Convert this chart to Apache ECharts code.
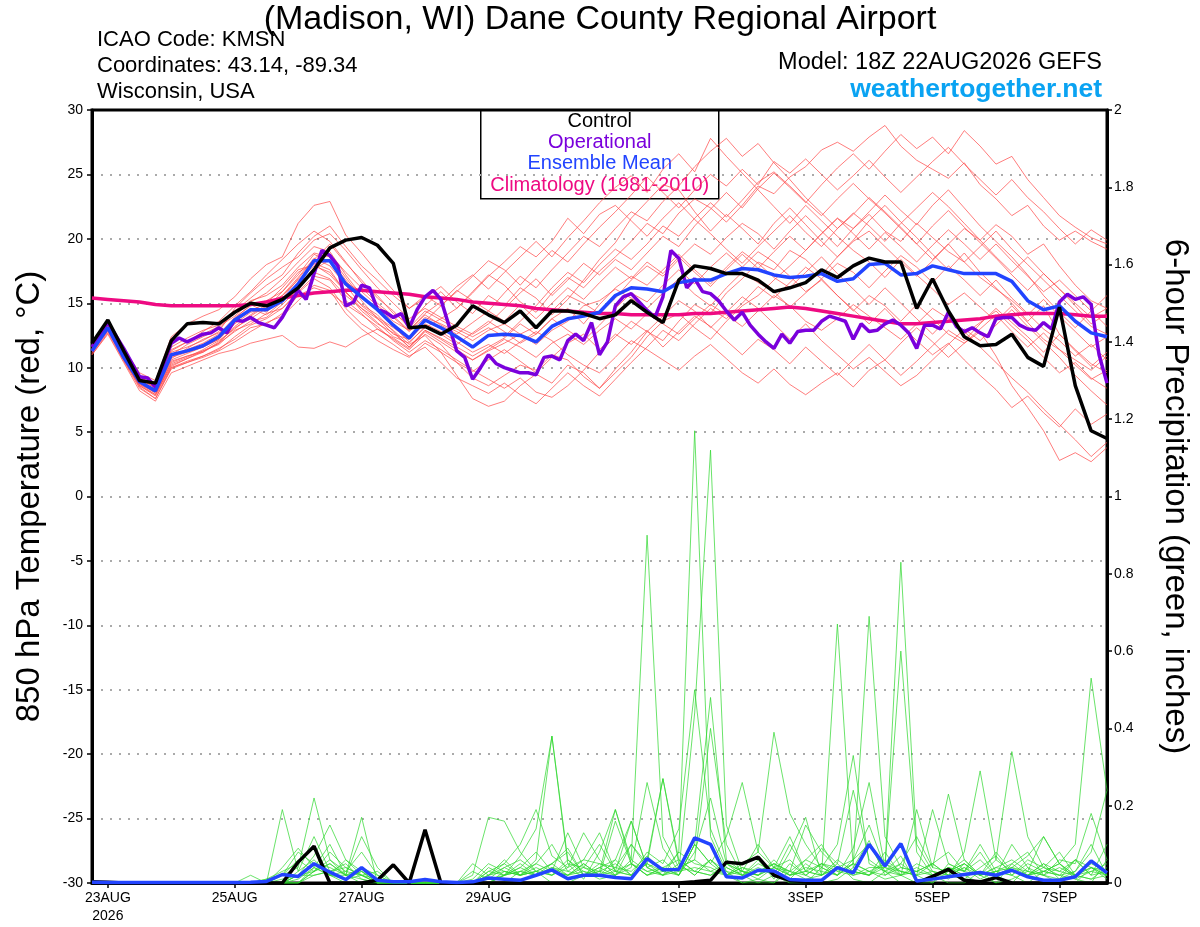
<!DOCTYPE html>
<html><head><meta charset="utf-8">
<script src="https://cdn.jsdelivr.net/npm/echarts@6/dist/echarts.min.js"></script>
<style>html,body{margin:0;padding:0;background:#fff}#c{width:1200px;height:927px}</style>
</head><body><div id="c"></div>
<script>
// x axis: hours after 18Z 22AUG2026
const tickHours = [6, 54, 102, 150, 222, 270, 318, 366];
const tickLabels = ['23AUG\n2026', '25AUG', '27AUG', '29AUG', '1SEP', '3SEP', '5SEP', '7SEP'];
const tempTicks = [-30, -25, -20, -15, -10, -5, 0, 5, 10, 15, 20, 25, 30];
const precipTicks = [0, 0.2, 0.4, 0.6, 0.8, 1, 1.2, 1.4, 1.6, 1.8, 2];

// 6-hourly series (65 values)
const controlTemp = [
  11.9,13.7,11.3,9.0,8.8,12.1,13.4,13.5,13.4,14.3,15.0,14.8,15.3,
  16.2,17.6,19.3,19.9,20.1,19.5,18.1,13.1,13.2,12.6,13.3,14.8,14.1,
  13.5,14.4,13.1,14.4,14.4,14.2,13.8,14.1,15.2,14.3,13.5,16.8,17.9,
  17.7,17.3,17.3,16.8,15.9,16.2,16.6,17.6,17.0,17.9,18.5,18.2,18.2,
  14.6,16.9,14.4,12.4,11.7,11.8,12.6,10.8,10.1,14.7,8.6,5.1,4.5];
const meanTemp = [
  11.3,13.1,10.8,8.9,8.2,11.0,11.3,11.7,12.4,13.7,14.5,14.5,15.2,
  16.5,18.3,18.3,16.5,15.5,14.5,13.3,12.3,13.7,13.1,12.4,11.6,12.5,
  12.6,12.5,12.0,13.2,13.8,14.0,14.3,15.6,16.2,16.1,15.9,16.6,16.8,
  16.8,17.3,17.7,17.6,17.2,17.0,17.1,17.3,16.7,16.9,18.0,18.1,17.2,
  17.3,17.9,17.6,17.3,17.3,17.3,16.7,15.2,14.5,14.8,13.6,12.7,12.4];
const climTemp = [
  15.4,15.3,15.2,15.1,14.9,14.8,14.8,14.8,14.8,14.8,14.9,15.1,15.4,
  15.6,15.8,15.9,16.0,16.0,15.9,15.8,15.7,15.5,15.4,15.3,15.1,15.0,
  14.9,14.8,14.6,14.5,14.4,14.3,14.2,14.2,14.1,14.1,14.1,14.1,14.2,
  14.2,14.3,14.4,14.5,14.6,14.7,14.6,14.4,14.2,14.0,13.8,13.6,13.4,
  13.4,13.5,13.6,13.7,13.8,14.0,14.1,14.2,14.2,14.2,14.1,14.0,14.0];
// 3-hourly operational run (129 values)
const operationalTemp = [
  11.6,12.5,13.5,12.5,11.5,10.4,9.3,9.2,
  8.5,10.2,11.9,12.3,12.0,12.3,12.6,12.7,
  13.1,12.7,13.7,13.6,13.9,13.5,13.3,13.1,
  13.9,15.0,16.0,15.3,17.3,19.1,18.7,17.9,
  14.8,15.1,16.4,16.2,14.5,14.3,13.9,14.2,
  13.1,14.5,15.5,16.0,15.3,13.3,11.3,10.8,
  9.1,10.0,11.0,10.3,10.0,9.8,9.6,9.6,
  9.45,10.8,10.9,10.6,12.1,12.6,12.1,13.5,
  11.0,12.0,14.8,15.5,15.75,15.1,14.45,13.9,
  15.5,19.1,18.5,16.2,16.9,15.9,15.75,15.2,
  14.4,13.7,14.3,13.3,12.6,12.0,11.5,12.6,
  11.9,12.8,12.9,12.9,13.6,14.0,13.8,13.6,
  12.2,13.4,12.8,12.9,13.4,13.7,13.3,12.7,
  11.5,13.3,13.3,13.0,14.3,13.2,12.8,13.1,
  12.7,12.4,13.8,13.9,13.9,13.3,13.0,12.9,
  13.5,13.0,15.1,15.7,15.3,15.5,14.9,11.0,
  8.8];
const controlPrecip = [
  0.003,0.002,0,0,0,0,0,0,0,0,0,0,0,
  0.054,0.095,0,0,0,0.007,0.047,0,0.138,0,0,0,0,
  0,0,0,0,0,0,0,0,0,0,0,0,0.003,
  0.007,0.054,0.05,0.067,0.02,0.007,0.003,0,0,0,0,0,0,
  0,0.017,0.035,0.007,0.003,0.014,0,0,0,0,0,0,0];
const meanPrecip = [
  0.002,0.001,0.001,0.001,0.001,0.001,0.001,0.001,0.001,0.001,0.002,0.004,0.022,
  0.017,0.05,0.028,0.009,0.04,0.007,0.003,0.003,0.009,0.003,0.001,0.003,0.013,
  0.01,0.007,0.02,0.034,0.011,0.02,0.02,0.014,0.011,0.063,0.034,0.035,0.117,
  0.1,0.016,0.013,0.033,0.031,0.009,0.007,0.007,0.04,0.026,0.1,0.044,0.102,
  0.005,0.01,0.016,0.022,0.027,0.02,0.033,0.016,0.007,0.007,0.016,0.057,0.026];

// ensemble members, 850 hPa temperature (6-hourly)
const memberT01 = [11.6,13.4,11.2,9.1,8.5,11.4,12.0,12.6,13.2, 14.0,15.1,15.8,16.9,18.2,19.4,19.0,17.2, 15.6,14.4,13.2,12.0,13.1,13.8,14.6,15.9, 17.2,16.4,15.1,14.3,15.8,17.0,16.2,17.5, 18.6,19.8,21.2,20.4,22.0,23.1,22.4,21.3, 22.6,24.1,23.5,24.8,25.6,26.9,27.5,26.8, 27.9,28.8,27.2,26.1,25.4,24.7,25.9,24.2, 23.1,21.8,22.6,21.0,19.9,20.6,19.8,19.2];
const memberT02 = [11.2,12.9,10.6,8.6,7.9,10.4,10.9,11.2,12.0, 13.1,13.8,14.6,15.9,17.4,18.1,17.6,15.8, 14.9,14.1,12.8,11.6,12.9,12.2,11.4,10.6, 11.3,11.9,12.6,11.8,12.9,13.6,14.8,15.2, 16.1,15.4,14.6,15.8,16.9,15.7,14.8,16.2, 17.4,16.6,15.9,14.7,15.8,16.9,15.6,14.4, 15.6,14.8,13.6,14.9,13.8,12.6,11.9,12.8, 10.9,8.6,6.9,5.1,2.8,3.4,2.7,3.8];
const memberT03 = [11.8,13.6,11.5,9.6,9.0,12.4,13.4,14.0,14.5, 15.5,16.9,18.0,18.6,21.2,22.6,22.9,20.3, 18.9,17.4,16.0,14.6,15.4,16.3,15.1,14.2, 15.6,14.8,16.2,15.4,14.1,15.3,16.8,18.4, 19.7,21.6,22.9,24.2,23.8,22.1,20.6,21.9, 20.8,19.6,21.2,22.4,21.1,19.8,18.6,19.9, 21.4,22.6,21.3,20.1,18.8,17.6,18.9,17.4, 16.2,15.0,13.6,14.8,12.6,11.4,10.3,9.6];
const memberT04 = [11.0,12.6,10.4,8.2,7.4,9.6,10.1,10.6,11.1, 11.4,11.9,12.2,12.5,11.6,11.5,12.0,11.6, 12.4,13.0,12.2,11.4,12.6,11.8,10.4,9.2, 8.6,9.4,10.2,9.8,11.0,10.6,9.3,8.4, 9.6,10.8,12.4,13.6,14.2,13.1,12.2,13.6, 14.8,15.6,16.8,17.9,19.1,20.4,21.6,20.8, 22.1,23.4,22.2,21.1,22.6,23.8,22.4,21.0, 19.8,18.6,17.2,15.6,14.3,13.1,14.4,15.6];
const memberT05 = [11.4,13.1,10.9,8.8,8.0,10.1,10.7,11.3,11.9, 12.8,13.6,13.9,14.9,16.1,17.6,18.4,16.8, 15.2,13.8,12.9,11.8,12.5,11.2,9.4,7.6, 7.0,7.4,8.6,9.5,8.8,10.2,9.6,8.4, 9.9,11.2,12.8,12.1,13.6,14.9,14.2,15.8, 16.9,18.2,17.6,19.1,18.4,17.2,18.6,19.8, 20.6,19.4,18.2,17.1,18.3,19.6,20.8,19.9, 21.1,20.2,18.8,19.6,17.9,16.4,15.2,14.6];
const memberT06 = [11.7,13.5,11.3,9.3,8.6,11.0,11.8,12.4,13.0, 14.3,15.2,15.6,16.4,17.8,18.9,18.6,17.0, 15.4,14.6,13.6,12.9,14.2,15.1,16.3,17.2, 16.1,17.4,18.6,19.8,18.6,20.1,21.4,22.8, 24.0,24.9,23.6,25.4,26.6,25.2,27.8,26.4, 25.1,23.8,22.5,21.2,22.6,21.4,20.2,19.1, 18.2,17.0,18.4,17.2,16.1,14.9,15.8,14.7, 13.6,14.8,13.5,12.2,11.4,10.6,9.8,10.9];
const memberT07 = [11.3,12.9,10.8,8.9,8.3,10.6,11.1,11.6,12.2, 13.4,14.3,14.6,15.6,17.0,18.5,17.9,16.4, 14.8,13.9,13.1,12.2,13.4,12.8,12.0,11.2, 11.8,11.1,12.0,12.8,12.1,11.0,10.2,9.6, 10.8,12.1,11.4,10.6,9.8,10.9,11.8,10.7, 9.6,8.8,9.9,8.7,7.9,8.8,9.6,8.5, 9.8,10.6,9.4,10.5,11.7,12.9,12.1,13.4, 14.6,13.5,12.4,11.2,12.6,11.3,10.1,11.2];
const memberT08 = [11.5,13.3,11.1,9.0,8.2,11.2,11.6,12.1,12.8, 14.6,15.8,16.9,17.8,18.6,19.9,20.4,19.1, 17.6,16.2,15.0,13.8,14.6,13.9,13.2,12.6, 13.4,14.6,15.8,16.9,15.6,16.8,18.1,17.2, 18.4,17.6,18.9,20.2,19.4,21.0,22.3,23.6, 22.4,23.9,25.1,24.0,22.8,24.2,25.5,26.6, 25.4,26.8,28.1,27.0,27.9,26.6,28.4,27.2, 25.8,26.4,24.6,23.2,21.8,20.9,20.1,19.6];
const memberT09 = [11.1,12.8,10.7,8.7,8.1,10.3,10.8,11.4,12.1, 13.0,14.0,14.8,15.3,16.6,17.4,16.9,15.6, 14.6,13.5,12.4,11.9,13.2,12.6,11.8,12.7, 13.6,12.8,11.9,12.6,13.8,14.6,13.4,14.9, 16.2,17.1,16.4,17.6,18.8,17.6,16.5,17.8, 19.0,18.1,17.0,16.2,17.4,18.6,17.3,16.1, 14.9,16.2,15.0,13.8,12.6,13.9,12.8,11.6, 10.4,9.2,8.1,6.8,5.6,4.4,3.1,4.2];
const memberT10 = [11.6,13.2,11.0,9.2,8.4,11.0,11.4,11.9,12.6, 13.9,14.8,15.2,15.9,17.2,18.8,18.2,16.6, 15.9,14.8,13.9,12.8,13.9,13.4,12.8,12.1, 12.9,13.4,12.6,13.2,14.4,15.6,15.0,14.2, 15.4,16.8,17.9,17.1,18.4,19.6,18.8,20.1, 21.2,20.4,19.2,20.6,21.8,20.6,19.4,20.8, 21.9,20.6,19.8,21.2,20.1,19.0,18.2,19.4, 20.6,19.2,18.0,16.8,15.6,14.4,13.2,12.6];
const memberT11 = [11.2,13.0,10.6,8.5,7.6,9.9,10.4,10.9,11.5, 12.2,13.1,13.4,14.2,15.6,16.2,15.8,14.9, 14.1,13.2,12.1,11.2,12.1,11.4,10.6,9.8, 9.1,8.4,9.2,8.1,7.7,8.6,9.8,11.2, 12.4,13.6,12.8,14.0,15.2,14.4,13.1,14.3, 15.5,14.6,13.4,12.2,13.4,12.1,11.0,9.9, 10.8,9.7,8.6,9.4,10.6,11.8,13.0,12.1, 13.3,14.5,13.2,12.0,10.8,9.4,8.2,7.1];
const memberT12 = [11.4,13.2,10.9,9.0,8.3,10.7,11.5,12.2,12.7, 13.6,14.4,15.0,16.2,17.6,18.0,17.2,15.9, 14.6,13.8,12.6,12.2,13.6,14.8,16.0,15.2, 14.4,15.8,17.1,16.2,17.6,18.9,20.2,19.4, 20.8,22.1,21.4,22.9,24.1,25.6,26.8,27.8, 26.4,27.4,25.9,24.6,23.2,22.0,20.8,21.9, 23.2,22.1,20.9,19.6,18.4,19.6,18.2,17.0, 16.1,15.2,14.1,15.3,14.0,12.8,11.6,12.4];
const memberT13 = [11.3,13.0,10.8,8.8,8.1,10.5,10.9,11.3,11.8, 12.9,13.4,14.2,14.6,15.9,17.1,16.8,15.2, 14.2,13.0,12.3,11.5,12.8,12.0,11.2,10.6, 11.4,12.2,11.6,10.8,11.9,12.6,11.8,12.9, 13.8,13.0,14.2,13.4,12.6,13.8,14.9,14.1, 13.2,14.4,15.6,14.8,13.6,12.9,13.8,14.9, 14.0,13.1,12.2,13.4,14.6,13.8,12.6,13.5, 14.4,13.2,12.1,10.8,9.6,10.4,9.2,8.4];
const memberT14 = [11.5,13.3,11.1,9.1,8.4,10.9,11.3,11.8,12.4, 13.8,14.9,14.3,15.4,16.9,18.4,19.6,18.1, 16.8,15.4,14.4,13.1,14.4,13.7,13.0,12.4, 13.1,12.4,13.6,14.8,16.2,17.4,16.6,18.0, 19.2,18.4,19.6,21.0,20.2,21.6,22.8,21.7, 23.0,24.4,25.2,24.1,22.9,21.8,23.1,24.3, 23.1,22.0,20.8,19.6,21.0,22.2,20.9,19.7, 18.5,17.2,16.0,17.3,16.1,14.8,13.4,14.2];
const memberT15 = [11.4,13.0,10.7,8.7,7.9,10.2,10.7,11.2,11.9, 13.2,14.1,14.9,15.6,16.8,17.9,17.4,15.9, 14.4,13.4,12.7,11.6,12.9,12.3,11.6,10.9, 11.6,12.3,13.4,12.6,13.8,12.9,12.1,13.3, 14.6,15.8,15.1,16.4,17.6,16.5,17.8,18.9, 17.8,19.0,18.2,17.1,15.9,16.8,15.6,14.5, 13.4,14.6,13.3,12.1,11.0,11.9,10.6,9.4, 8.3,6.9,7.8,6.5,5.4,6.8,5.6,6.4];
const memberT16 = [11.6,13.4,11.2,9.2,8.6,11.3,12.0,12.8,13.6, 14.8,15.9,17.2,18.4,19.6,20.6,19.8,18.2, 16.6,15.6,14.2,13.4,14.8,15.9,14.6,15.8, 17.1,18.2,19.4,18.6,19.8,21.6,20.4,21.9, 22.6,21.4,20.2,21.6,22.8,21.5,20.4,19.2, 18.1,19.4,20.6,21.8,20.5,19.4,20.8,22.0, 21.0,19.8,21.2,22.4,23.6,22.5,21.2,19.9, 18.6,17.4,18.6,17.3,16.1,15.0,13.9,14.6];
const memberT17 = [11.0,12.7,10.5,8.4,7.6,10.0,10.5,10.9,11.4, 12.4,13.3,13.8,14.6,15.8,16.9,16.2,14.6, 13.4,12.6,11.8,10.9,11.6,10.4,9.2,8.6, 8.0,8.8,7.9,7.2,8.4,9.6,8.6,7.8, 9.1,10.4,11.6,12.9,12.1,13.4,14.6,13.8, 15.0,16.3,15.4,16.6,17.8,16.9,18.1,17.4, 16.2,17.5,18.7,17.8,16.6,17.9,16.8,15.6, 16.8,15.4,14.2,13.0,12.1,10.9,11.8,10.6];
const memberT18 = [11.7,13.5,11.4,9.4,8.8,11.6,12.3,12.9,13.3, 14.4,15.4,16.4,17.2,18.9,20.2,21.0,19.4, 17.9,16.8,15.6,14.6,15.6,14.8,15.9,17.1, 18.3,17.6,16.4,17.8,19.1,18.2,19.6,20.9, 22.1,23.4,24.8,23.6,22.4,23.8,25.0,24.1, 25.4,24.2,26.0,25.1,26.2,25.0,23.8,24.9, 26.1,24.8,23.6,24.8,26.0,27.1,25.8,24.6, 23.4,24.6,23.2,22.1,20.8,19.6,20.7,19.9];
const memberT19 = [11.3,12.9,10.7,8.6,7.8,10.0,10.4,10.8,11.3, 12.0,12.8,13.5,14.0,15.2,16.4,16.0,14.2, 13.0,12.1,11.4,10.8,11.9,11.2,10.4,9.7, 10.6,11.4,10.5,9.6,10.8,11.9,12.6,11.4, 12.6,11.8,12.9,11.6,12.8,14.0,13.2,12.1, 11.0,12.2,11.4,10.3,11.6,10.5,9.4,10.6, 11.8,10.6,11.9,13.1,12.0,10.8,11.9,13.0, 14.1,12.8,11.6,12.7,11.4,10.2,9.1,9.8];
const memberT20 = [11.5,13.1,11.0,9.0,8.2,10.8,11.2,11.6,12.2, 13.5,14.6,14.1,15.1,16.4,18.2,18.8,17.4, 16.2,15.0,14.0,12.9,14.1,13.3,12.6,13.5, 14.4,13.6,14.9,13.8,15.0,16.2,15.3,16.6, 17.8,16.9,18.2,17.3,18.6,17.4,16.3,17.6, 18.8,17.7,19.0,20.2,19.1,20.4,21.6,20.4, 19.2,20.5,19.4,18.2,19.5,20.7,19.6,18.4, 19.6,18.3,17.1,15.9,16.8,15.6,14.4,13.2];

// ensemble members, 6-hour precipitation (inches)
const memberP01 = [0,0,0,0,0,0,0,0,0,0,0,0.01,0.03, 0.05,0.09,0.02,0,0,0,0,0,0,0,0,0.02,0.17, 0.16,0.08,0.03,0,0,0.02,0.05,0.04,0.1,0.05,0.02,0.08,1.17, 0.12,0.03,0,0,0.02,0,0,0.04,0.02,0.06,0.1,0.03,0, 0,0.02,0,0,0.03,0,0.05,0.08,0.02,0,0,0.04,0.01];
const memberP02 = [0,0,0,0,0,0,0,0,0,0,0,0,0.02, 0.04,0.22,0.06,0.03,0.02,0.01,0,0,0,0,0,0,0.03, 0.05,0.1,0.19,0.07,0.04,0.13,0.06,0.02,0.04,0.26,0.09,0.03,0.44, 1.12,0.15,0.03,0.01,0,0.05,0.02,0,0.01,0.04,0.02,0.08,0.02, 0,0,0.03,0.06,0.02,0,0.01,0.03,0.12,0.05,0.01,0,0.06];
const memberP03 = [0,0,0,0,0,0,0,0,0,0,0.02,0,0.04, 0.09,0.04,0.1,0.02,0.17,0,0,0,0,0,0,0.01,0.05, 0.03,0.02,0.06,0.38,0.05,0.01,0.08,0.19,0.06,0.9,0.12,0.04,0.06, 0.4,0.1,0.02,0,0,0.03,0.01,0.02,0.05,0.01,0,0.03,0.07, 0,0.01,0.04,0.02,0,0.02,0.1,0.04,0,0.01,0.03,0.1,0.02];
const memberP04 = [0,0,0,0,0,0,0,0,0,0,0,0,0.19, 0.03,0.12,0.03,0.05,0.01,0,0,0,0,0,0,0,0.03, 0.02,0.04,0.08,0.03,0.02,0.05,0.02,0.06,0.16,0.04,0.06,0.02,0.08, 0.22,0.05,0.02,0.06,0.01,0.08,0.17,0.02,0.67,0.04,0.11,0.02,0.05, 0.02,0,0.05,0.03,0.08,0.02,0,0.04,0.02,0.01,0.06,0.02,0.1];
const memberP05 = [0,0,0,0,0,0,0,0,0,0,0,0,0, 0.02,0.07,0.15,0.06,0.02,0.03,0,0,0,0,0,0,0, 0.02,0.03,0.05,0.1,0.03,0.06,0.13,0.03,0.02,0.05,0.03,0.02,0.1, 0.05,0.02,0,0.01,0.04,0.02,0.06,0.1,0.03,0.05,0.69,0.12,0.04, 0.03,0.05,0.02,0.01,0.04,0.07,0.02,0,0.03,0.05,0.02,0.01,0.04];
const memberP06 = [0,0,0,0,0,0,0,0,0,0,0,0.01,0.02, 0.06,0.03,0.06,0.02,0.12,0.04,0,0,0,0,0,0,0.01, 0.04,0.02,0.03,0.05,0.08,0.02,0.03,0.05,0.02,0.06,0.27,0.05,0.02, 0.06,0.02,0.05,0.08,0.04,0.12,0.03,0.05,0.02,0.09,0.26,0.04,0.83, 0.1,0.03,0.01,0.05,0.02,0.06,0.03,0.02,0.05,0.01,0.02,0.05,0.03];
const memberP07 = [0,0,0,0,0,0,0,0,0,0,0,0,0.01, 0.02,0.05,0.02,0.01,0.03,0.01,0,0,0,0,0,0.05,0.02, 0.04,0.06,0.03,0.02,0.05,0.04,0.1,0.03,0.05,0.02,0.04,0.06,0.03, 0.02,0.04,0.02,0.05,0.03,0.01,0.05,0.02,0.04,0.03,0.02,0.06,0.03, 0.02,0.05,0.08,0.03,0.06,0.02,0.04,0.07,0.12,0.05,0.1,0.53,0.24];
const memberP08 = [0,0,0,0,0,0,0,0,0,0,0,0,0.02, 0.08,0.05,0.04,0.02,0.01,0,0,0,0,0,0,0.03,0.01, 0.02,0.07,0.14,0.38,0.06,0.02,0.03,0.02,0.05,0.02,0.04,0.02,0.1, 0.05,0.12,0.26,0.08,0.39,0.18,0.1,0.04,0.02,0.05,0.03,0.01,0.02, 0.05,0.03,0.02,0.04,0.01,0.03,0.02,0.05,0.03,0.02,0.01,0.03,0.05];
const memberP09 = [0,0,0,0,0,0,0,0,0,0,0,0,0, 0,0.04,0.02,0.06,0.03,0,0,0,0,0,0,0,0.02, 0.06,0.02,0.03,0.05,0.02,0.03,0.01,0.02,0.1,0.04,0.02,0.05,0.02, 0.06,0.03,0.02,0.04,0.02,0.1,0.03,0.09,0.05,0.24,0.06,0.03,0.05, 0.12,0.04,0.23,0.06,0.02,0.04,0.06,0.03,0.02,0.04,0.02,0.01,0.02];
const memberP10 = [0,0,0,0,0,0,0,0,0,0,0,0,0, 0.03,0.06,0.02,0.03,0.08,0.02,0,0,0,0,0,0,0.04, 0.02,0.05,0.02,0.03,0.13,0.04,0.02,0.04,0.03,0.07,0.03,0.08,0.05, 0.04,0.02,0.03,0.1,0.04,0.06,0.02,0.05,0.03,0.02,0.04,0.04,0.03, 0.02,0.19,0.05,0.03,0.1,0.03,0.02,0.06,0.04,0.08,0.02,0.04,0.02];
const memberP11 = [0,0,0,0,0,0,0,0,0,0,0,0,0, 0,0.03,0.05,0.02,0,0.01,0,0,0,0,0,0,0, 0.03,0.02,0.04,0.02,0.06,0.03,0.02,0.16,0.05,0.03,0.02,0.04,0.03, 0.02,0.05,0.03,0.02,0.06,0.02,0.04,0.03,0.02,0.05,0.03,0.02,0.04, 0.03,0.05,0.02,0.08,0.29,0.06,0.34,0.12,0.04,0.02,0.06,0.04,0.02];
const memberP12 = [0,0,0,0,0,0,0,0,0,0,0,0,0, 0.02,0.03,0.08,0.04,0.02,0,0,0,0,0,0,0,0, 0,0.03,0.02,0.05,0.09,0.02,0.04,0.06,0.02,0.05,0.27,0.06,0.03, 0.06,0.02,0.04,0.02,0.05,0.03,0.06,0.04,0.1,0.33,0.05,0.03,0.02, 0.04,0.02,0.03,0.05,0.02,0.08,0.03,0.02,0.04,0.03,0.06,0.02,0.03];
const memberP13 = [0,0,0,0,0,0,0,0,0,0,0,0,0, 0.01,0.04,0.02,0.02,0.04,0.02,0,0,0,0,0,0,0.02, 0.05,0.02,0.03,0.02,0.04,0.06,0.05,0.03,0.02,0.08,0.05,0.14,0.5, 0.14,0.04,0.02,0.03,0.05,0.02,0.03,0.02,0.04,0.03,0.02,0.05,0.03, 0.02,0.03,0.02,0.04,0.02,0.03,0.05,0.02,0.03,0.02,0.03,0.08,0.24];
const memberP14 = [0,0,0,0,0,0,0,0,0,0,0,0,0, 0,0.02,0.03,0.01,0.02,0,0,0,0,0,0,0,0, 0.02,0.04,0.02,0.04,0.03,0.02,0.04,0.02,0.06,0.03,0.04,0.02,0.1, 0.48,0.06,0.03,0.02,0.04,0.03,0.15,0.08,0.04,0.02,0.03,0.05,0.02, 0.03,0.02,0.04,0.02,0.03,0.02,0.04,0.03,0.02,0.06,0.05,0.18,0.06];
const memberP15 = [0,0,0,0,0,0,0,0,0,0,0,0,0, 0.02,0.02,0.03,0.04,0.02,0,0,0,0,0,0,0,0.02, 0.03,0.02,0.05,0.03,0.02,0.04,0.03,0.19,0.05,0.02,0.03,0.04,0.06, 0.03,0.02,0.04,0.03,0.05,0.03,0.02,0.05,0.04,0.06,0.15,0.04,0.6, 0.08,0.02,0.04,0.03,0.02,0.04,0.03,0.02,0.05,0.03,0.02,0.04,0.03];
const memberP16 = [0,0,0,0,0,0,0,0,0,0,0,0,0, 0,0.03,0.05,0.02,0.03,0,0,0,0,0,0,0,0, 0.02,0.03,0.02,0.04,0.02,0.05,0.02,0.03,0.16,0.04,0.02,0.03,0.04, 0.03,0.05,0.03,0.02,0.04,0.02,0.03,0.02,0.06,0.03,0.02,0.04,0.02, 0.19,0.04,0.03,0.05,0.02,0.03,0.04,0.02,0.03,0.05,0.02,0.03,0.02];

const memberTemps = [memberT01,memberT02,memberT03,memberT04,memberT05,memberT06,memberT07,memberT08,memberT09,memberT10,
  memberT11,memberT12,memberT13,memberT14,memberT15,memberT16,memberT17,memberT18,memberT19,memberT20];
const memberPrecips = [memberP01,memberP02,memberP03,memberP04,memberP05,memberP06,memberP07,memberP08,
  memberP09,memberP10,memberP11,memberP12,memberP13,memberP14,memberP15,memberP16];

const FONT = '"Liberation Sans", Arial, sans-serif';
const pairs = (arr, step) => arr.map((v, i) => [i * step, v]);

const series = [];
memberTemps.forEach((m, k) => series.push({
  type: 'line', name: 'memberT' + k, data: pairs(m, 6), yAxisIndex: 0,
  showSymbol: false, silent: true, z: 1,
  lineStyle: { color: '#ff4a4a', width: 0.8, opacity: 0.9 }
}));
memberPrecips.forEach((m, k) => series.push({
  type: 'line', name: 'memberP' + k, data: pairs(m, 6), yAxisIndex: 1,
  showSymbol: false, silent: true, z: 2,
  lineStyle: { color: '#2fd82f', width: 0.8, opacity: 0.9 }
}));
series.push({ type: 'line', name: 'Climatology (1981-2010)', data: pairs(climTemp, 6), yAxisIndex: 0, showSymbol: false, z: 3,
  lineStyle: { color: '#ee0a82', width: 3.5 } });
series.push({ type: 'line', name: 'Operational', data: pairs(operationalTemp, 3), yAxisIndex: 0, showSymbol: false, z: 4,
  lineStyle: { color: '#7a00dc', width: 3.5 } });
series.push({ type: 'line', name: 'Ensemble Mean', data: pairs(meanTemp, 6), yAxisIndex: 0, showSymbol: false, z: 5,
  lineStyle: { color: '#2244ff', width: 3.5 } });
series.push({ type: 'line', name: 'Control', data: pairs(controlTemp, 6), yAxisIndex: 0, showSymbol: false, z: 6,
  lineStyle: { color: '#000000', width: 3.5 } });
series.push({ type: 'line', name: 'Control precip', data: pairs(controlPrecip, 6), yAxisIndex: 1, showSymbol: false, z: 6,
  lineStyle: { color: '#000000', width: 3.5 } });
series.push({ type: 'line', name: 'Mean precip', data: pairs(meanPrecip, 6), yAxisIndex: 1, showSymbol: false, z: 7,
  lineStyle: { color: '#2244ff', width: 3.5 } });

const plainText = (size) => ({ fontSize: size, fontWeight: 'normal', color: '#000', fontFamily: FONT });

const chart = echarts.init(document.getElementById('c'), null, { renderer: 'canvas' });
chart.setOption({
  animation: false,
  backgroundColor: '#ffffff',
  textStyle: { fontFamily: FONT },
  title: [
    { text: '(Madison, WI) Dane County Regional Airport', left: 'center', top: -2, textStyle: plainText(34) },
    { text: 'ICAO Code: KMSN', left: 92, top: 24, textStyle: plainText(22) },
    { text: 'Coordinates: 43.14, -89.34', left: 92, top: 50, textStyle: plainText(22) },
    { text: 'Wisconsin, USA', left: 92, top: 76, textStyle: plainText(22) },
    { text: 'Model: 18Z 22AUG2026 GEFS', right: 93, top: 46, textStyle: plainText(23.5) },
    { text: 'weathertogether.net', right: 93, top: 71, textStyle: { fontSize: 26.5, fontWeight: 'bold', color: '#0aa3f2', fontFamily: FONT } }
  ],
  grid: { left: 92, right: 93, top: 110, bottom: 44, show: true, borderColor: '#000', borderWidth: 3, containLabel: false },
  xAxis: {
    type: 'value', min: 0, max: 384,
    axisLine: { show: true, onZero: false, lineStyle: { color: '#000', width: 3 } },
    axisTick: { show: true, customValues: tickHours, length: 5, lineStyle: { color: '#000', width: 1.5 } },
    axisLabel: { customValues: tickHours, color: '#000', fontSize: 14, lineHeight: 18, margin: 6, fontFamily: FONT,
      formatter: v => tickLabels[tickHours.indexOf(v)] },
    splitLine: { show: false }
  },
  yAxis: [
    { type: 'value', min: tempTicks[0], max: tempTicks[tempTicks.length - 1], interval: 5, position: 'left',
      name: '850 hPa Temperature (red, °C)', nameLocation: 'middle', nameGap: 46, nameRotate: 90,
      nameTextStyle: { fontSize: 33, color: '#000', fontFamily: FONT },
      axisLine: { show: true, lineStyle: { color: '#000', width: 3 } },
      axisTick: { show: true, length: 5, lineStyle: { color: '#000', width: 1.5 } },
      axisLabel: { color: '#000', fontSize: 14, margin: 9, fontFamily: FONT },
      splitLine: { show: true, showMinLine: false, showMaxLine: false, lineStyle: { color: '#aaaaaa', width: 2, type: [2, 7] } } },
    { type: 'value', min: precipTicks[0], max: precipTicks[precipTicks.length - 1], interval: 0.2, position: 'right',
      name: '6-hour Precipitation (green, inches)', nameLocation: 'middle', nameGap: 52, nameRotate: -90,
      nameTextStyle: { fontSize: 33, color: '#000', fontFamily: FONT },
      axisLine: { show: true, lineStyle: { color: '#000', width: 3 } },
      axisTick: { show: true, length: 5, lineStyle: { color: '#000', width: 1.5 } },
      axisLabel: { color: '#000', fontSize: 14, margin: 7, fontFamily: FONT, formatter: v => String(+v.toFixed(1)) },
      splitLine: { show: false } }
  ],
  graphic: [{
    type: 'group', left: 480, top: 110, z: 100,
    children: [
      { type: 'rect', shape: { x: 0, y: 0, width: 238, height: 88 }, style: { fill: '#fff', stroke: '#000', lineWidth: 1.5 } },
      { type: 'text', style: { text: 'Control', x: 119, y: 11, align: 'center', verticalAlign: 'middle', font: '20px ' + FONT, fill: '#000' } },
      { type: 'text', style: { text: 'Operational', x: 119, y: 32, align: 'center', verticalAlign: 'middle', font: '20px ' + FONT, fill: '#7a00dc' } },
      { type: 'text', style: { text: 'Ensemble Mean', x: 119, y: 53, align: 'center', verticalAlign: 'middle', font: '20px ' + FONT, fill: '#2244ff' } },
      { type: 'text', style: { text: 'Climatology (1981-2010)', x: 119, y: 75, align: 'center', verticalAlign: 'middle', font: '20px ' + FONT, fill: '#ee0a82' } }
    ]
  }],
  series: series
});
</script>
</body></html>
